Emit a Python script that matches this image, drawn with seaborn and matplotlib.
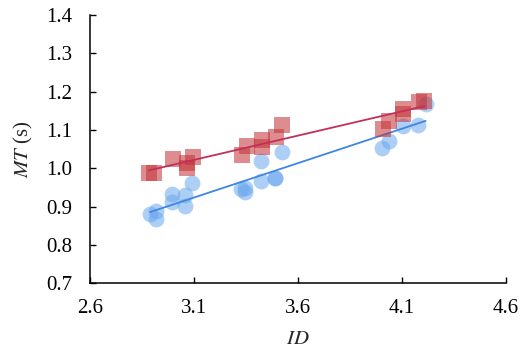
import numpy as np
import pandas as pd
import matplotlib
matplotlib.use("Agg")
import matplotlib.pyplot as plt
import seaborn as sns

# ----------------------------
# Data
# ----------------------------

red_id = [2.885, 2.908, 2.998, 3.065, 3.065, 3.097,
          3.330, 3.354, 3.429, 3.429, 3.495, 3.525,
          4.011, 4.040, 4.108, 4.108, 4.185, 4.209]
red_mt = [0.988, 0.988, 1.024, 1.014, 1.002, 1.030,
          1.036, 1.058, 1.075, 1.056, 1.081, 1.114,
          1.102, 1.124, 1.154, 1.142, 1.173, 1.176]

blue_id = [2.889, 2.918, 2.918, 2.993, 2.993, 3.059, 3.059, 3.092,
           3.325, 3.347, 3.347, 3.423, 3.423, 3.490, 3.490, 3.524,
           4.004, 4.039, 4.105, 4.180, 4.215]
blue_mt = [0.882, 0.889, 0.867, 0.933, 0.911, 0.930, 0.902, 0.963,
           0.945, 0.950, 0.937, 0.967, 1.020, 0.974, 0.976, 1.042,
           1.054, 1.072, 1.111, 1.113, 1.168]

x_ticks = [2.6, 3.1, 3.6, 4.1, 4.6]
y_ticks = [0.7, 0.8, 0.9, 1.0, 1.1, 1.2, 1.3, 1.4]

df_red = pd.DataFrame({"ID": red_id, "MT": red_mt})
df_blue = pd.DataFrame({"ID": blue_id, "MT": blue_mt})

# ----------------------------
# Style
# ----------------------------

sns.set_style("ticks")
plt.rcParams["font.family"] = ["Liberation Serif", "DejaVu Serif"]
plt.rcParams["mathtext.fontset"] = "stix"

fig = plt.figure(figsize=(5.25, 3.56), dpi=100)
ax = fig.add_axes([0.1714, 0.204, 0.7916, 0.754])

# ----------------------------
# Plot
# ----------------------------

sns.regplot(data=df_blue, x="ID", y="MT", ci=None, ax=ax,
            marker="o",
            scatter_kws=dict(s=130, color="#6aa6ee", alpha=0.55, linewidths=0, zorder=2),
            line_kws=dict(color="#3f86e0", lw=1.3, zorder=3))

sns.regplot(data=df_red, x="ID", y="MT", ci=None, ax=ax,
            marker="s",
            scatter_kws=dict(s=130, color="#c23034", alpha=0.55, linewidths=0, zorder=4),
            line_kws=dict(color="#c2305a", lw=1.3, zorder=5))

ax.set_xlim(2.6, 4.6)
ax.set_ylim(0.7, 1.4)
ax.set_xticks(x_ticks)
ax.set_yticks(y_ticks)
ax.set_xticklabels([f"{v:.1f}" for v in x_ticks])
ax.set_yticklabels([f"{v:.1f}" for v in y_ticks])

ax.tick_params(direction="in", length=4, width=1, labelsize=15, colors="black")
ax.tick_params(axis="x", pad=11)
ax.tick_params(axis="y", pad=13)
for s in ["left", "bottom"]:
    ax.spines[s].set_linewidth(1.1)
    ax.spines[s].set_color("black")
sns.despine(ax=ax)

ax.set_xlabel("$\\it{ID}$", fontsize=15, labelpad=9)
ax.set_ylabel("$\\it{MT}$ (s)", fontsize=15, labelpad=8)

fig.savefig("out.png", dpi=100)
